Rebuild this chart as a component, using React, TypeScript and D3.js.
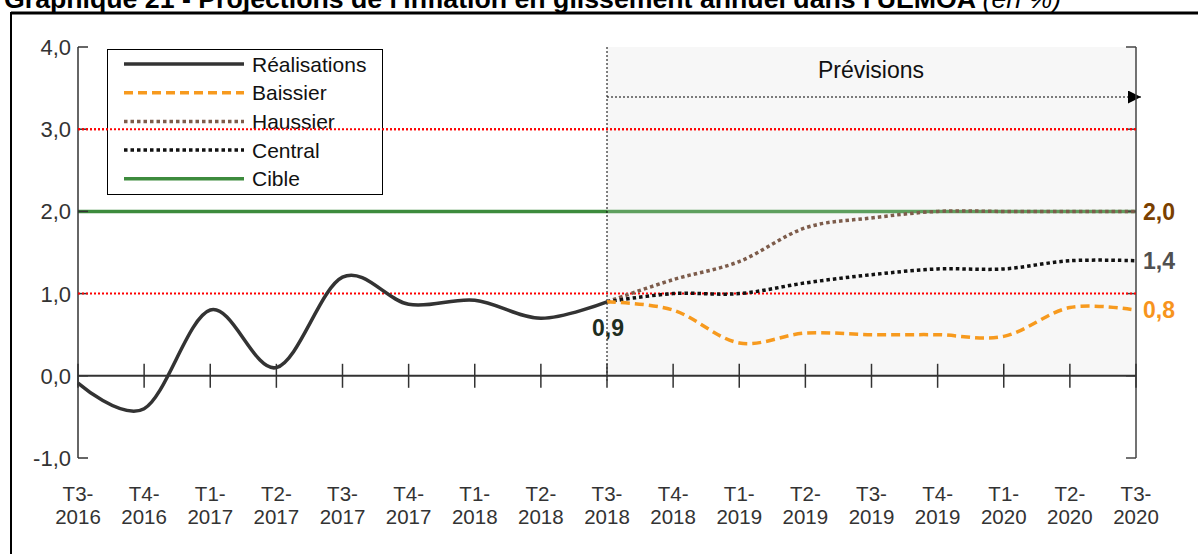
import * as d3 from "d3";
import React from "react";

const quarters = [
  "T3-2016", "T4-2016", "T1-2017", "T2-2017", "T3-2017", "T4-2017", "T1-2018", "T2-2018", "T3-2018",
  "T4-2018", "T1-2019", "T2-2019", "T3-2019", "T4-2019", "T1-2020", "T2-2020", "T3-2020",
];
const realQuarters = quarters.slice(0, 9);
const forecastQuarters = quarters.slice(8);

const realisations = [-0.09, -0.4, 0.8, 0.1, 1.2, 0.87, 0.92, 0.7, 0.9];
const baissier = [0.9, 0.8, 0.4, 0.52, 0.5, 0.5, 0.48, 0.83, 0.8];
const haussier = [0.9, 1.17, 1.39, 1.8, 1.92, 2.0, 2.0, 2.0, 2.0];
const central = [0.9, 1.0, 1.0, 1.13, 1.23, 1.3, 1.3, 1.4, 1.4];
const cible = 2.0;
const seuils = [1.0, 3.0];
const yTicks = [-1, 0, 1, 2, 3, 4];

const legendItems = [
  { label: "Réalisations", color: "#333333", dash: null },
  { label: "Baissier", color: "#f79a1e", dash: "9,5" },
  { label: "Haussier", color: "#7d5c4b", dash: "3.5,3" },
  { label: "Central", color: "#111111", dash: "3.5,3" },
  { label: "Cible", color: "#3d8b3d", dash: null },
];

const fmt = (v: number) => v.toFixed(1).replace(".", ",");

export default function App() {
  const width = 1198;
  const height = 554;
  const x = d3.scalePoint<string>().domain(quarters).range([78, 1136]);
  const y = d3.scaleLinear().domain([-1, 4]).range([458, 47]);

  const line = d3
    .line<[string, number]>()
    .x((d) => x(d[0])!)
    .y((d) => y(d[1]))
    .curve(d3.curveCatmullRom.alpha(0));

  const zip = (ks: string[], vs: number[]) => ks.map((k, i) => [k, vs[i]] as [string, number]);

  const x0 = x(quarters[0])!;
  const x1 = x(quarters[quarters.length - 1])!;
  const xf = x("T3-2018")!;
  const font = "Arial, 'Liberation Sans', sans-serif";

  return (
    <svg width={width} height={height} style={{ position: "absolute", left: 0, top: 0, background: "#fff" }} fontFamily={font}>
      <defs>
        <marker id="arrow" viewBox="0 0 10 10" refX="10" refY="5" markerWidth="13" markerHeight="13" markerUnits="userSpaceOnUse" orient="auto">
          <path d="M0,0 L10,5 L0,10 z" fill="#000" />
        </marker>
      </defs>
      {/* titre */}
      <text x={4} y={8} fontSize={26.7} fontWeight="bold" fill="#000">
        Graphique 21 - Projections de l'inflation en glissement annuel dans l'UEMOA{" "}
        <tspan fontWeight="normal" fontStyle="italic">(en %)</tspan>
      </text>
      {/* cadre */}
      <line x1={11} x2={width} y1={13} y2={13} stroke="#000" strokeWidth={3} />
      <line x1={11} x2={11} y1={12} y2={height} stroke="#000" strokeWidth={2} />

      {/* zone prévisions */}
      <rect x={xf} y={y(4)} width={x1 - xf} height={y(0) - y(4)} fill="#f7f7f7" />

      {/* cible */}
      <line x1={x0} x2={xf} y1={y(cible)} y2={y(cible)} stroke="#3d8b3d" strokeWidth={3.5} />
      <line x1={xf} x2={x1} y1={y(cible)} y2={y(cible)} stroke="#5e9f5e" strokeWidth={3.5} />

      <text x={871} y={78} fontSize={23} textAnchor="middle" fill="#111">Prévisions</text>
      <line x1={xf} x2={1141} y1={97} y2={97} stroke="#000" strokeWidth={1} strokeDasharray="2,2" markerEnd="url(#arrow)" />
      <line x1={xf} x2={xf} y1={y(4)} y2={y(0) + 5} stroke="#000" strokeWidth={1} strokeDasharray="2,2" />

      {/* axes */}
      <line x1={x0} x2={x0} y1={y(4)} y2={y(-1)} stroke="#333" strokeWidth={1.5} />
      <line x1={x1} x2={x1} y1={y(4)} y2={y(-1)} stroke="#444" strokeWidth={1.5} />
      {yTicks.map((t) => (
        <g key={t}>
          <line x1={x0} x2={x0 + 10} y1={y(t)} y2={y(t)} stroke="#333" strokeWidth={1.5} />
          <line x1={x1 - 10} x2={x1} y1={y(t)} y2={y(t)} stroke="#444" strokeWidth={1.5} />
          <text x={71} y={y(t)} dy="0.36em" fontSize={22} textAnchor="end" fill="#333">{fmt(t)}</text>
        </g>
      ))}
      <line x1={x0} x2={x1} y1={y(0)} y2={y(0)} stroke="#333" strokeWidth={2} />
      {quarters.map((q) => {
        const [tq, yr] = q.split("-");
        return (
          <g key={q}>
            <line x1={x(q)} x2={x(q)} y1={y(0) - 12} y2={y(0) + 12} stroke="#333" strokeWidth={1.5} />
            <text x={x(q)} y={501} fontSize={20.5} textAnchor="middle" fill="#333">{tq}-</text>
            <text x={x(q)} y={524} fontSize={20.5} textAnchor="middle" fill="#333">{yr}</text>
          </g>
        );
      })}

      {/* seuils */}
      {seuils.map((s) => (
        <line key={s} x1={x0} x2={x1} y1={y(s)} y2={y(s)} stroke="#ff0000" strokeWidth={2} strokeDasharray="2,2" />
      ))}

      {/* séries */}
      <path d={line(zip(forecastQuarters, haussier))!} fill="none" stroke="#7d5c4b" strokeWidth={3.5} strokeDasharray="3.5,3" />
      <path d={line(zip(forecastQuarters, central))!} fill="none" stroke="#111" strokeWidth={3.5} strokeDasharray="3.5,3" />
      <path d={line(zip(forecastQuarters, baissier))!} fill="none" stroke="#f79a1e" strokeWidth={3.5} strokeDasharray="9,5" />
      <path d={line(zip(realQuarters, realisations))!} fill="none" stroke="#333" strokeWidth={3.5} />

      {/* étiquettes */}
      <text x={xf + 1} y={y(0.9) + 34} fontSize={23} fontWeight="bold" textAnchor="middle" fill="#1e2d1e">{fmt(0.9)}</text>
      <text x={1143} y={y(haussier[8])} dy="0.36em" fontSize={23} fontWeight="bold" fill="#7a4000">{fmt(haussier[8])}</text>
      <text x={1143} y={y(central[8])} dy="0.36em" fontSize={23} fontWeight="bold" fill="#505050">{fmt(central[8])}</text>
      <text x={1143} y={y(baissier[8])} dy="0.36em" fontSize={23} fontWeight="bold" fill="#f7941d">{fmt(baissier[8])}</text>

      {/* légende */}
      <rect x={107.5} y={49.5} width={275} height={145} fill="#fff" stroke="#000" strokeWidth={1} />
      {legendItems.map((it, i) => {
        const ly = 64 + i * 28.7;
        return (
          <g key={it.label}>
            <line x1={124} x2={244} y1={ly} y2={ly} stroke={it.color} strokeWidth={3.5} strokeDasharray={it.dash ?? undefined} />
            <text x={252} y={ly} dy="0.36em" fontSize={21} fill="#111">{it.label}</text>
          </g>
        );
      })}
      <line x1={x0} x2={x1} y1={y(3)} y2={y(3)} stroke="#ff0000" strokeWidth={2} strokeDasharray="2,2" />
    </svg>
  );
}
